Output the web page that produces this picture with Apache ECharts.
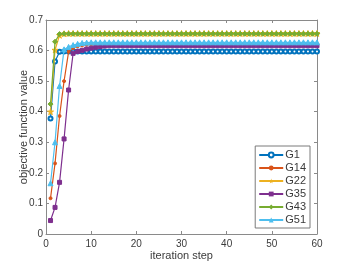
<!DOCTYPE html>
<html><head><meta charset="utf-8">
<script src="https://cdn.jsdelivr.net/npm/echarts@6/dist/echarts.min.js"></script>
<style>html,body{margin:0;padding:0;background:#fff}#c{width:350px;height:263px}</style>
</head><body><div id="c"></div>
<script>
const seriesNames = ["G1", "G14", "G22", "G35", "G43", "G51"];
const xTicks = [0, 10, 20, 30, 40, 50, 60];
const yTicks = [0, 0.1, 0.2, 0.3, 0.4, 0.5, 0.6, 0.7];
const G1 = [0.378,0.564,0.596,0.597,0.597,0.597,0.597,0.597,0.597,0.597,
  0.597,0.597,0.597,0.597,0.597,0.597,0.597,0.597,0.597,0.597,
  0.597,0.597,0.597,0.597,0.597,0.597,0.597,0.597,0.597,0.597,
  0.597,0.597,0.597,0.597,0.597,0.597,0.597,0.597,0.597,0.597,
  0.597,0.597,0.597,0.597,0.597,0.597,0.597,0.597,0.597,0.597,
  0.597,0.597,0.597,0.597,0.597,0.597,0.597,0.597,0.597,0.597];
const G14 = [0.117,0.231,0.386,0.500,0.596,0.608,0.614,0.617,0.619,0.620,
  0.621,0.621,0.621,0.621,0.621,0.621,0.621,0.621,0.621,0.621,
  0.621,0.621,0.621,0.621,0.621,0.621,0.621,0.621,0.621,0.621,
  0.621,0.621,0.621,0.621,0.621,0.621,0.621,0.621,0.621,0.621,
  0.621,0.621,0.621,0.621,0.621,0.621,0.621,0.621,0.621,0.621,
  0.621,0.621,0.621,0.621,0.621,0.621,0.621,0.621,0.621,0.621];
const G22 = [0.400,0.602,0.650,0.655,0.656,0.656,0.656,0.656,0.656,0.656,
  0.656,0.656,0.656,0.656,0.656,0.656,0.656,0.656,0.656,0.656,
  0.656,0.656,0.656,0.656,0.656,0.656,0.656,0.656,0.656,0.656,
  0.656,0.656,0.656,0.656,0.656,0.656,0.656,0.656,0.656,0.656,
  0.656,0.656,0.656,0.656,0.656,0.656,0.656,0.656,0.656,0.656,
  0.656,0.656,0.656,0.656,0.656,0.656,0.656,0.656,0.656,0.656];
const G35 = [0.044,0.087,0.169,0.311,0.471,0.591,0.597,0.601,0.605,0.608,
  0.611,0.613,0.615,0.616,0.616,0.616,0.616,0.616,0.616,0.616,
  0.616,0.616,0.616,0.616,0.616,0.616,0.616,0.616,0.616,0.616,
  0.616,0.616,0.616,0.616,0.616,0.616,0.616,0.616,0.616,0.616,
  0.616,0.616,0.616,0.616,0.616,0.616,0.616,0.616,0.616,0.616,
  0.616,0.616,0.616,0.616,0.616,0.616,0.616,0.616,0.616,0.616];
const G43 = [0.425,0.629,0.654,0.655,0.655,0.655,0.655,0.655,0.655,0.655,
  0.655,0.655,0.655,0.655,0.655,0.655,0.655,0.655,0.655,0.655,
  0.655,0.655,0.655,0.655,0.655,0.655,0.655,0.655,0.655,0.655,
  0.655,0.655,0.655,0.655,0.655,0.655,0.655,0.655,0.655,0.655,
  0.655,0.655,0.655,0.655,0.655,0.655,0.655,0.655,0.655,0.655,
  0.655,0.655,0.655,0.655,0.655,0.655,0.655,0.655,0.655,0.655];
const G51 = [0.166,0.300,0.484,0.604,0.612,0.618,0.622,0.625,0.626,0.627,
  0.627,0.627,0.627,0.627,0.627,0.627,0.627,0.627,0.627,0.627,
  0.627,0.627,0.627,0.627,0.627,0.627,0.627,0.627,0.627,0.627,
  0.627,0.627,0.627,0.627,0.627,0.627,0.627,0.627,0.627,0.627,
  0.627,0.627,0.627,0.627,0.627,0.627,0.627,0.627,0.627,0.627,
  0.627,0.627,0.627,0.627,0.627,0.627,0.627,0.627,0.627,0.627];
const steps = G1.map((_, i) => i + 1);
const allValues = [G1, G14, G22, G35, G43, G51];
const colors = ["#0072BD", "#D95319", "#EDB120", "#7E2F8E", "#77AC30", "#4DBEEE"];
const starPath = 'path://M50,0 L61,35 L98,35 L68,57 L79,91 L50,70 L21,91 L32,57 L2,35 L39,35Z';
const symbols = ['emptyCircle', 'circle', starPath, 'rect', 'diamond', 'triangle'];
const sizes = [4, 3, 6, 4, 5, 5];

const chart = echarts.init(document.getElementById('c'));
const axisCol = '#8a8a8a';
const txtCol = '#3a3a3a';
const font = 'Liberation Sans, Arial, sans-serif';
const mkX = (show, pos) => ({
  type: 'value', min: xTicks[0], max: xTicks[xTicks.length-1], interval: 10, position: pos,
  axisLine: {show: true, onZero: false, lineStyle: {color: axisCol, width: 1}},
  axisTick: {show: true, inside: true, length: 3, lineStyle: {color: axisCol}},
  axisLabel: {show: show, color: txtCol, fontSize: 10, fontFamily: font, margin: 5},
  splitLine: {show: false},
  name: show ? 'iteration step' : '', nameLocation: 'middle', nameGap: 16, nameMoveOverlap: false,
  nameTextStyle: {color: txtCol, fontSize: 11, fontFamily: font}
});
const mkY = (show, pos) => ({
  type: 'value', min: yTicks[0], max: yTicks[yTicks.length-1], interval: 0.1, position: pos,
  axisLine: {show: true, onZero: false, lineStyle: {color: axisCol, width: 1}},
  axisTick: {show: true, inside: true, length: 3, lineStyle: {color: axisCol}},
  axisLabel: {show: show, color: txtCol, fontSize: 10, fontFamily: font, margin: 3,
    formatter: v => String(Math.round(v * 10) / 10)},
  splitLine: {show: false},
  name: show ? 'objective function value' : '', nameLocation: 'middle', nameGap: 17, nameMoveOverlap: false,
  nameTextStyle: {color: txtCol, fontSize: 11, fontFamily: font}
});
chart.setOption({
  animation: false,
  grid: {left: 46, right: 33, top: 20, bottom: 29, containLabel: false, outerBoundsMode: 'none'},
  xAxis: [mkX(true, 'bottom'), mkX(false, 'top')],
  yAxis: [mkY(true, 'left'), mkY(false, 'right')],
  legend: {
    orient: 'vertical', right: 40, top: 146,
    data: seriesNames,
    itemWidth: 24, itemHeight: 6, itemGap: 1,
    padding: [3, 4, 2, 3],
    borderColor: '#7a7a7a', borderWidth: 1, backgroundColor: '#fff',
    textStyle: {color: txtCol, fontSize: 11, lineHeight: 12, fontFamily: font, padding: [0, 0, 0, -3]}
  },
  series: seriesNames.map((n, k) => ({
    name: n, type: 'line',
    data: steps.map((s, i) => [s, allValues[k][i]]),
    symbol: symbols[k], symbolSize: sizes[k], showSymbol: true,
    lineStyle: {color: colors[k], width: 1.2},
    itemStyle: {color: colors[k], borderColor: colors[k]},
    z: 2 + k
  }))
});
</script></body></html>
